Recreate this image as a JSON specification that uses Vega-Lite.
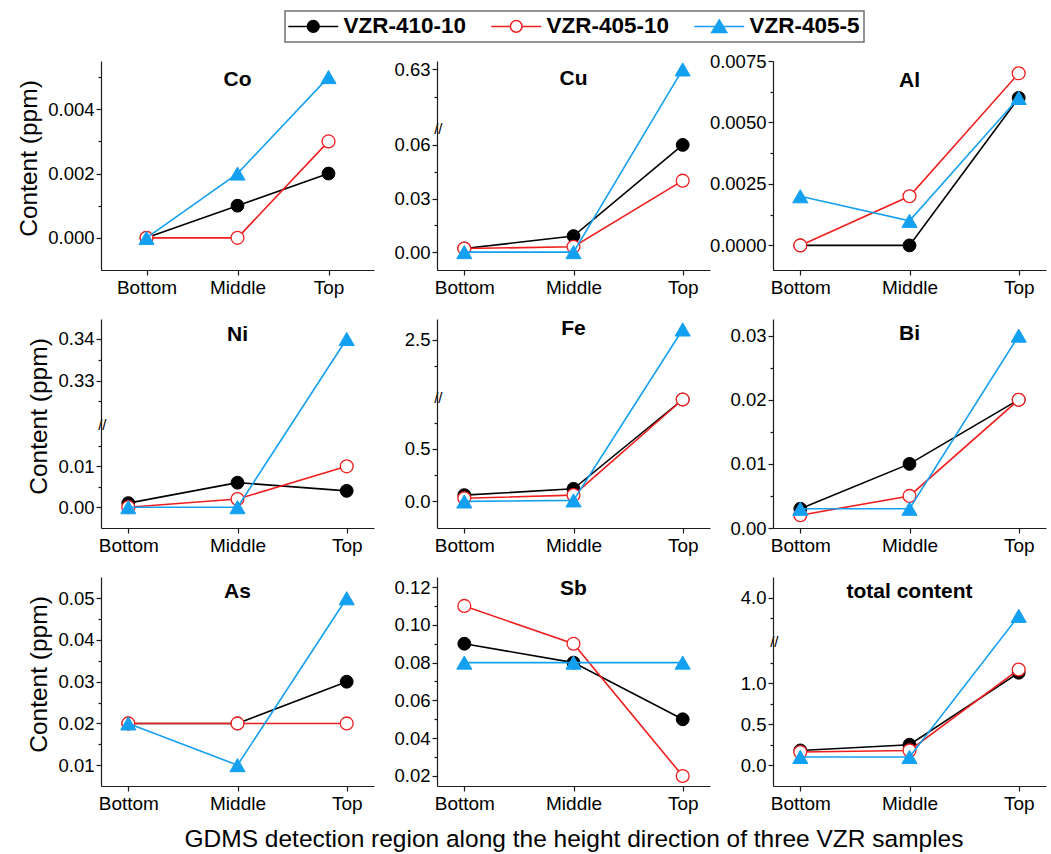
{
  "$schema": "https://vega.github.io/schema/vega-lite/v6.json",
  "datasets": {
    "d": [
      {"element": "Co", "region": "Bottom", "sample": "VZR-410-10", "value": 0},
      {"element": "Co", "region": "Middle", "sample": "VZR-410-10", "value": 0.001},
      {"element": "Co", "region": "Top", "sample": "VZR-410-10", "value": 0.002},
      {"element": "Co", "region": "Bottom", "sample": "VZR-405-10", "value": 0},
      {"element": "Co", "region": "Middle", "sample": "VZR-405-10", "value": 0},
      {"element": "Co", "region": "Top", "sample": "VZR-405-10", "value": 0.003},
      {"element": "Co", "region": "Bottom", "sample": "VZR-405-5", "value": 0},
      {"element": "Co", "region": "Middle", "sample": "VZR-405-5", "value": 0.002},
      {"element": "Co", "region": "Top", "sample": "VZR-405-5", "value": 0.005},
      {"element": "Cu", "region": "Bottom", "sample": "VZR-410-10", "value": 0.002},
      {"element": "Cu", "region": "Middle", "sample": "VZR-410-10", "value": 0.009},
      {"element": "Cu", "region": "Top", "sample": "VZR-410-10", "value": 0.06},
      {"element": "Cu", "region": "Bottom", "sample": "VZR-405-10", "value": 0.002},
      {"element": "Cu", "region": "Middle", "sample": "VZR-405-10", "value": 0.003},
      {"element": "Cu", "region": "Top", "sample": "VZR-405-10", "value": 0.04},
      {"element": "Cu", "region": "Bottom", "sample": "VZR-405-5", "value": 0},
      {"element": "Cu", "region": "Middle", "sample": "VZR-405-5", "value": 0},
      {"element": "Cu", "region": "Top", "sample": "VZR-405-5", "value": 0.63},
      {"element": "Al", "region": "Bottom", "sample": "VZR-410-10", "value": 0},
      {"element": "Al", "region": "Middle", "sample": "VZR-410-10", "value": 0},
      {"element": "Al", "region": "Top", "sample": "VZR-410-10", "value": 0.006},
      {"element": "Al", "region": "Bottom", "sample": "VZR-405-10", "value": 0},
      {"element": "Al", "region": "Middle", "sample": "VZR-405-10", "value": 0.002},
      {"element": "Al", "region": "Top", "sample": "VZR-405-10", "value": 0.007},
      {"element": "Al", "region": "Bottom", "sample": "VZR-405-5", "value": 0.002},
      {"element": "Al", "region": "Middle", "sample": "VZR-405-5", "value": 0.001},
      {"element": "Al", "region": "Top", "sample": "VZR-405-5", "value": 0.006},
      {"element": "Ni", "region": "Bottom", "sample": "VZR-410-10", "value": 0.001},
      {"element": "Ni", "region": "Middle", "sample": "VZR-410-10", "value": 0.006},
      {"element": "Ni", "region": "Top", "sample": "VZR-410-10", "value": 0.004},
      {"element": "Ni", "region": "Bottom", "sample": "VZR-405-10", "value": 0},
      {"element": "Ni", "region": "Middle", "sample": "VZR-405-10", "value": 0.002},
      {"element": "Ni", "region": "Top", "sample": "VZR-405-10", "value": 0.01},
      {"element": "Ni", "region": "Bottom", "sample": "VZR-405-5", "value": 0},
      {"element": "Ni", "region": "Middle", "sample": "VZR-405-5", "value": 0},
      {"element": "Ni", "region": "Top", "sample": "VZR-405-5", "value": 0.34},
      {"element": "Fe", "region": "Bottom", "sample": "VZR-410-10", "value": 0.06},
      {"element": "Fe", "region": "Middle", "sample": "VZR-410-10", "value": 0.12},
      {"element": "Fe", "region": "Top", "sample": "VZR-410-10", "value": 0.97},
      {"element": "Fe", "region": "Bottom", "sample": "VZR-405-10", "value": 0.03},
      {"element": "Fe", "region": "Middle", "sample": "VZR-405-10", "value": 0.06},
      {"element": "Fe", "region": "Top", "sample": "VZR-405-10", "value": 0.97},
      {"element": "Fe", "region": "Bottom", "sample": "VZR-405-5", "value": 0},
      {"element": "Fe", "region": "Middle", "sample": "VZR-405-5", "value": 0.01},
      {"element": "Fe", "region": "Top", "sample": "VZR-405-5", "value": 2.6},
      {"element": "Bi", "region": "Bottom", "sample": "VZR-410-10", "value": 0.003},
      {"element": "Bi", "region": "Middle", "sample": "VZR-410-10", "value": 0.01},
      {"element": "Bi", "region": "Top", "sample": "VZR-410-10", "value": 0.02},
      {"element": "Bi", "region": "Bottom", "sample": "VZR-405-10", "value": 0.002},
      {"element": "Bi", "region": "Middle", "sample": "VZR-405-10", "value": 0.005},
      {"element": "Bi", "region": "Top", "sample": "VZR-405-10", "value": 0.02},
      {"element": "Bi", "region": "Bottom", "sample": "VZR-405-5", "value": 0.003},
      {"element": "Bi", "region": "Middle", "sample": "VZR-405-5", "value": 0.003},
      {"element": "Bi", "region": "Top", "sample": "VZR-405-5", "value": 0.03},
      {"element": "As", "region": "Bottom", "sample": "VZR-410-10", "value": 0.02},
      {"element": "As", "region": "Middle", "sample": "VZR-410-10", "value": 0.02},
      {"element": "As", "region": "Top", "sample": "VZR-410-10", "value": 0.03},
      {"element": "As", "region": "Bottom", "sample": "VZR-405-10", "value": 0.02},
      {"element": "As", "region": "Middle", "sample": "VZR-405-10", "value": 0.02},
      {"element": "As", "region": "Top", "sample": "VZR-405-10", "value": 0.02},
      {"element": "As", "region": "Bottom", "sample": "VZR-405-5", "value": 0.02},
      {"element": "As", "region": "Middle", "sample": "VZR-405-5", "value": 0.01},
      {"element": "As", "region": "Top", "sample": "VZR-405-5", "value": 0.05},
      {"element": "Sb", "region": "Bottom", "sample": "VZR-410-10", "value": 0.09},
      {"element": "Sb", "region": "Middle", "sample": "VZR-410-10", "value": 0.08},
      {"element": "Sb", "region": "Top", "sample": "VZR-410-10", "value": 0.05},
      {"element": "Sb", "region": "Bottom", "sample": "VZR-405-10", "value": 0.11},
      {"element": "Sb", "region": "Middle", "sample": "VZR-405-10", "value": 0.09},
      {"element": "Sb", "region": "Top", "sample": "VZR-405-10", "value": 0.02},
      {"element": "Sb", "region": "Bottom", "sample": "VZR-405-5", "value": 0.08},
      {"element": "Sb", "region": "Middle", "sample": "VZR-405-5", "value": 0.08},
      {"element": "Sb", "region": "Top", "sample": "VZR-405-5", "value": 0.08},
      {"element": "total content", "region": "Bottom", "sample": "VZR-410-10", "value": 0.18},
      {"element": "total content", "region": "Middle", "sample": "VZR-410-10", "value": 0.25},
      {"element": "total content", "region": "Top", "sample": "VZR-410-10", "value": 1.13},
      {"element": "total content", "region": "Bottom", "sample": "VZR-405-10", "value": 0.16},
      {"element": "total content", "region": "Middle", "sample": "VZR-405-10", "value": 0.18},
      {"element": "total content", "region": "Top", "sample": "VZR-405-10", "value": 1.17},
      {"element": "total content", "region": "Bottom", "sample": "VZR-405-5", "value": 0.1},
      {"element": "total content", "region": "Middle", "sample": "VZR-405-5", "value": 0.1},
      {"element": "total content", "region": "Top", "sample": "VZR-405-5", "value": 3.78}
    ]
  },
  "data": {"name": "d"},
  "padding": {"left": 16, "top": 10, "right": 5, "bottom": 5},
  "columns": 3,
  "spacing": {"row": 49, "column": 63},
  "bounds": "flush",
  "concat": [
    {
      "width": 273, "height": 209,
      "transform": [{"filter": "datum.element === 'Co'"}],
      "title": {"text": "Co", "offset": -29},
      "encoding": {
        "x": {"field": "region", "type": "ordinal", "sort": ["Bottom", "Middle", "Top"], "scale": {"type": "point", "padding": 0.5}, "axis": {"title": null, "labelAngle": 0}},
        "y": {"field": "value", "type": "quantitative", "scale": {"domain": [-0.001, 0.0055], "zero": false, "nice": false},
              "axis": {"title": "Content (ppm)", "titleY": 97, "values": [0, 0.001, 0.002, 0.003, 0.004, 0.005], "format": ".3f",
                       "labelExpr": "indexof([0, 0.002, 0.004], datum.value) < 0 ? '' : datum.label",
                       "tickSize": {"condition": {"test": "indexof([0, 0.002, 0.004], datum.value) < 0", "value": 3}, "value": 5}}}
      },
      "layer": [
        {"transform": [{"filter": "datum.sample === 'VZR-410-10'"}], "layer": [
          {"mark": {"type": "line", "stroke": "#000000", "strokeWidth": 1.6}},
          {"mark": {"type": "point", "shape": "circle", "size": 165, "filled": true, "fill": "#000000", "stroke": "#000000", "strokeWidth": 1, "opacity": 1}}]},
        {"transform": [{"filter": "datum.sample === 'VZR-405-10'"}], "layer": [
          {"mark": {"type": "line", "stroke": "#f01e1e", "strokeWidth": 1.6}},
          {"mark": {"type": "point", "shape": "circle", "size": 165, "filled": true, "fill": "#ffffff", "stroke": "#f01e1e", "strokeWidth": 1.3, "opacity": 1}}]},
        {"transform": [{"filter": "datum.sample === 'VZR-405-5'"}], "layer": [
          {"mark": {"type": "line", "stroke": "#14a0f0", "strokeWidth": 1.6}},
          {"mark": {"type": "point", "shape": "triangle-up", "size": 230, "filled": true, "fill": "#14a0f0", "stroke": "#14a0f0", "strokeWidth": 1, "opacity": 1}}]},
        {"data": {"values": []}, "mark": {"type": "point", "opacity": 1, "strokeWidth": 1.5},
         "encoding": {
           "shape": {"field": "sample", "type": "nominal", "scale": {"domain": ["VZR-410-10", "VZR-405-10", "VZR-405-5"], "range": ["M-4.3,0H-1A1,1 0 1,1 1,0A1,1 0 1,1 -1,0M1,0H4.3", "M-4.3,0H-1A1,1 0 1,1 1,0A1,1 0 1,1 -1,0M1,0H4.3", "M-4.3,0H4.3M0,-1.1L1.3,1.05L-1.3,1.05Z"]},
                     "legend": {"title": null, "orient": "none", "legendX": 184, "legendY": -50, "direction": "horizontal", "symbolSize": 135, "symbolStrokeWidth": 1.5, "symbolFillColor": "#000000", "symbolStrokeColor": "#000000", "labelFontSize": 22.5, "labelFontWeight": "bold", "labelFont": "Liberation Sans", "labelColor": "#000", "strokeColor": "#707070", "padding": 4, "columnPadding": 21, "labelOffset": 19, "symbolOffset": 13}},
           "stroke": {"field": "sample", "type": "nominal", "scale": {"domain": ["VZR-410-10", "VZR-405-10", "VZR-405-5"], "range": ["#000000", "#f01e1e", "#14a0f0"]},
                     "legend": {"title": null, "orient": "none", "legendX": 184, "legendY": -50, "direction": "horizontal", "symbolSize": 135, "symbolStrokeWidth": 1.5, "symbolFillColor": "#000000", "symbolStrokeColor": "#000000", "labelFontSize": 22.5, "labelFontWeight": "bold", "labelFont": "Liberation Sans", "labelColor": "#000", "strokeColor": "#707070", "padding": 4, "columnPadding": 21, "labelOffset": 19, "symbolOffset": 13}},
           "fill": {"field": "sample", "type": "nominal", "scale": {"domain": ["VZR-410-10", "VZR-405-10", "VZR-405-5"], "range": ["#000000", "#ffffff", "#14a0f0"]},
                     "legend": {"title": null, "orient": "none", "legendX": 184, "legendY": -50, "direction": "horizontal", "symbolSize": 135, "symbolStrokeWidth": 1.5, "symbolFillColor": "#000000", "symbolStrokeColor": "#000000", "labelFontSize": 22.5, "labelFontWeight": "bold", "labelFont": "Liberation Sans", "labelColor": "#000", "strokeColor": "#707070", "padding": 4, "columnPadding": 21, "labelOffset": 19, "symbolOffset": 13}}
         }}
      ]
    },
    {
      "width": 273, "height": 209,
      "transform": [{"filter": "datum.element === 'Cu'"}],
      "title": {"text": "Cu", "offset": -29},
      "encoding": {
        "x": {"field": "region", "type": "ordinal", "sort": ["Bottom", "Middle", "Top"], "scale": {"type": "point", "padding": 0.25}, "axis": {"title": null, "labelAngle": 0}},
        "y": {"field": "value", "type": "quantitative", "scale": {"domain": [-0.01, 0.0693, 0.609, 0.633], "range": [209, 67.3, 67.3, 0], "zero": false, "nice": false},
              "axis": {"title": null, "values": [0, 0.015, 0.03, 0.045, 0.06, 0.0693, 0.62, 0.63], "format": ".2f",
                       "labelExpr": "datum.value === 0.0693 ? '//' : (indexof([0, 0.03, 0.06, 0.63], datum.value) < 0 ? '' : datum.label)",
                       "labelFontSize": {"condition": {"test": "datum.value === 0.0693", "value": 15}, "value": 18.5},
                       "tickOpacity": {"condition": {"test": "datum.value === 0.0693", "value": 0}, "value": 1},
                       "tickSize": {"condition": [{"test": "datum.value === 0.0693", "value": -7}, {"test": "indexof([0, 0.03, 0.06, 0.63], datum.value) < 0", "value": 3}], "value": 5}}}
      },
      "layer": [
        {"transform": [{"filter": "datum.sample === 'VZR-410-10'"}], "layer": [
          {"mark": {"type": "line", "stroke": "#000000", "strokeWidth": 1.6}},
          {"mark": {"type": "point", "shape": "circle", "size": 165, "filled": true, "fill": "#000000", "stroke": "#000000", "strokeWidth": 1, "opacity": 1}}]},
        {"transform": [{"filter": "datum.sample === 'VZR-405-10'"}], "layer": [
          {"mark": {"type": "line", "stroke": "#f01e1e", "strokeWidth": 1.6}},
          {"mark": {"type": "point", "shape": "circle", "size": 165, "filled": true, "fill": "#ffffff", "stroke": "#f01e1e", "strokeWidth": 1.3, "opacity": 1}}]},
        {"transform": [{"filter": "datum.sample === 'VZR-405-5'"}], "layer": [
          {"mark": {"type": "line", "stroke": "#14a0f0", "strokeWidth": 1.6}},
          {"mark": {"type": "point", "shape": "triangle-up", "size": 230, "filled": true, "fill": "#14a0f0", "stroke": "#14a0f0", "strokeWidth": 1, "opacity": 1}}]}
      ]
    },
    {
      "width": 273, "height": 209,
      "transform": [{"filter": "datum.element === 'Al'"}],
      "title": {"text": "Al", "offset": -39},
      "encoding": {
        "x": {"field": "region", "type": "ordinal", "sort": ["Bottom", "Middle", "Top"], "scale": {"type": "point", "padding": 0.25}, "axis": {"title": null, "labelAngle": 0}},
        "y": {"field": "value", "type": "quantitative", "scale": {"domain": [-0.001, 0.0075], "zero": false, "nice": false},
              "axis": {"title": null, "values": [0, 0.00125, 0.0025, 0.00375, 0.005, 0.00625, 0.0075], "format": ".4f",
                       "labelExpr": "indexof([0, 0.0025, 0.005, 0.0075], datum.value) < 0 ? '' : datum.label",
                       "tickSize": {"condition": {"test": "indexof([0, 0.0025, 0.005, 0.0075], datum.value) < 0", "value": 3}, "value": 5}}}
      },
      "layer": [
        {"transform": [{"filter": "datum.sample === 'VZR-410-10'"}], "layer": [
          {"mark": {"type": "line", "stroke": "#000000", "strokeWidth": 1.6}},
          {"mark": {"type": "point", "shape": "circle", "size": 165, "filled": true, "fill": "#000000", "stroke": "#000000", "strokeWidth": 1, "opacity": 1}}]},
        {"transform": [{"filter": "datum.sample === 'VZR-405-10'"}], "layer": [
          {"mark": {"type": "line", "stroke": "#f01e1e", "strokeWidth": 1.6}},
          {"mark": {"type": "point", "shape": "circle", "size": 165, "filled": true, "fill": "#ffffff", "stroke": "#f01e1e", "strokeWidth": 1.3, "opacity": 1}}]},
        {"transform": [{"filter": "datum.sample === 'VZR-405-5'"}], "layer": [
          {"mark": {"type": "line", "stroke": "#14a0f0", "strokeWidth": 1.6}},
          {"mark": {"type": "point", "shape": "triangle-up", "size": 230, "filled": true, "fill": "#14a0f0", "stroke": "#14a0f0", "strokeWidth": 1, "opacity": 1}}]}
      ]
    },
    {
      "width": 273, "height": 209,
      "transform": [{"filter": "datum.element === 'Ni'"}],
      "title": {"text": "Ni", "offset": -26},
      "encoding": {
        "x": {"field": "region", "type": "ordinal", "sort": ["Bottom", "Middle", "Top"], "scale": {"type": "point", "padding": 0.25}, "axis": {"title": null, "labelAngle": 0}},
        "y": {"field": "value", "type": "quantitative", "scale": {"domain": [-0.0051, 0.0202, 0.3194, 0.3448], "range": [209, 105.7, 105.7, 0], "zero": false, "nice": false},
              "axis": {"title": "Content (ppm)", "titleY": 97, "values": [0, 0.005, 0.01, 0.015, 0.0202, 0.325, 0.33, 0.335, 0.34], "format": ".2f",
                       "labelExpr": "datum.value === 0.0202 ? '//' : (indexof([0, 0.01, 0.33, 0.34], datum.value) < 0 ? '' : datum.label)",
                       "labelFontSize": {"condition": {"test": "datum.value === 0.0202", "value": 15}, "value": 18.5},
                       "tickOpacity": {"condition": {"test": "datum.value === 0.0202", "value": 0}, "value": 1},
                       "tickSize": {"condition": [{"test": "datum.value === 0.0202", "value": -7}, {"test": "indexof([0, 0.01, 0.33, 0.34], datum.value) < 0", "value": 3}], "value": 5}}}
      },
      "layer": [
        {"transform": [{"filter": "datum.sample === 'VZR-410-10'"}], "layer": [
          {"mark": {"type": "line", "stroke": "#000000", "strokeWidth": 1.6}},
          {"mark": {"type": "point", "shape": "circle", "size": 165, "filled": true, "fill": "#000000", "stroke": "#000000", "strokeWidth": 1, "opacity": 1}}]},
        {"transform": [{"filter": "datum.sample === 'VZR-405-10'"}], "layer": [
          {"mark": {"type": "line", "stroke": "#f01e1e", "strokeWidth": 1.6}},
          {"mark": {"type": "point", "shape": "circle", "size": 165, "filled": true, "fill": "#ffffff", "stroke": "#f01e1e", "strokeWidth": 1.3, "opacity": 1}}]},
        {"transform": [{"filter": "datum.sample === 'VZR-405-5'"}], "layer": [
          {"mark": {"type": "line", "stroke": "#14a0f0", "strokeWidth": 1.6}},
          {"mark": {"type": "point", "shape": "triangle-up", "size": 230, "filled": true, "fill": "#14a0f0", "stroke": "#14a0f0", "strokeWidth": 1, "opacity": 1}}]}
      ]
    },
    {
      "width": 273, "height": 209,
      "transform": [{"filter": "datum.element === 'Fe'"}],
      "title": {"text": "Fe", "offset": -20},
      "encoding": {
        "x": {"field": "region", "type": "ordinal", "sort": ["Bottom", "Middle", "Top"], "scale": {"type": "point", "padding": 0.25}, "axis": {"title": null, "labelAngle": 0}},
        "y": {"field": "value", "type": "quantitative", "scale": {"domain": [-0.253, 0.99, 1.95, 2.7], "range": [209, 78.4, 78.4, 0], "zero": false, "nice": false},
              "axis": {"title": null, "values": [0, 0.25, 0.5, 0.75, 0.99, 2.25, 2.5], "format": ".1f",
                       "labelExpr": "datum.value === 0.99 ? '//' : (indexof([0, 0.5, 2.5], datum.value) < 0 ? '' : datum.label)",
                       "labelFontSize": {"condition": {"test": "datum.value === 0.99", "value": 15}, "value": 18.5},
                       "tickOpacity": {"condition": {"test": "datum.value === 0.99", "value": 0}, "value": 1},
                       "tickSize": {"condition": [{"test": "datum.value === 0.99", "value": -7}, {"test": "indexof([0, 0.5, 2.5], datum.value) < 0", "value": 3}], "value": 5}}}
      },
      "layer": [
        {"transform": [{"filter": "datum.sample === 'VZR-410-10'"}], "layer": [
          {"mark": {"type": "line", "stroke": "#000000", "strokeWidth": 1.6}},
          {"mark": {"type": "point", "shape": "circle", "size": 165, "filled": true, "fill": "#000000", "stroke": "#000000", "strokeWidth": 1, "opacity": 1}}]},
        {"transform": [{"filter": "datum.sample === 'VZR-405-10'"}], "layer": [
          {"mark": {"type": "line", "stroke": "#f01e1e", "strokeWidth": 1.6}},
          {"mark": {"type": "point", "shape": "circle", "size": 165, "filled": true, "fill": "#ffffff", "stroke": "#f01e1e", "strokeWidth": 1.3, "opacity": 1}}]},
        {"transform": [{"filter": "datum.sample === 'VZR-405-5'"}], "layer": [
          {"mark": {"type": "line", "stroke": "#14a0f0", "strokeWidth": 1.6}},
          {"mark": {"type": "point", "shape": "triangle-up", "size": 230, "filled": true, "fill": "#14a0f0", "stroke": "#14a0f0", "strokeWidth": 1, "opacity": 1}}]}
      ]
    },
    {
      "width": 273, "height": 209,
      "transform": [{"filter": "datum.element === 'Bi'"}],
      "title": {"text": "Bi", "offset": -25},
      "encoding": {
        "x": {"field": "region", "type": "ordinal", "sort": ["Bottom", "Middle", "Top"], "scale": {"type": "point", "padding": 0.25}, "axis": {"title": null, "labelAngle": 0}},
        "y": {"field": "value", "type": "quantitative", "scale": {"domain": [0, 0.0326], "zero": false, "nice": false},
              "axis": {"title": null, "values": [0, 0.005, 0.01, 0.015, 0.02, 0.025, 0.03], "format": ".2f",
                       "labelExpr": "indexof([0, 0.01, 0.02, 0.03], datum.value) < 0 ? '' : datum.label",
                       "tickSize": {"condition": {"test": "indexof([0, 0.01, 0.02, 0.03], datum.value) < 0", "value": 3}, "value": 5}}}
      },
      "layer": [
        {"transform": [{"filter": "datum.sample === 'VZR-410-10'"}], "layer": [
          {"mark": {"type": "line", "stroke": "#000000", "strokeWidth": 1.6}},
          {"mark": {"type": "point", "shape": "circle", "size": 165, "filled": true, "fill": "#000000", "stroke": "#000000", "strokeWidth": 1, "opacity": 1}}]},
        {"transform": [{"filter": "datum.sample === 'VZR-405-10'"}], "layer": [
          {"mark": {"type": "line", "stroke": "#f01e1e", "strokeWidth": 1.6}},
          {"mark": {"type": "point", "shape": "circle", "size": 165, "filled": true, "fill": "#ffffff", "stroke": "#f01e1e", "strokeWidth": 1.3, "opacity": 1}}]},
        {"transform": [{"filter": "datum.sample === 'VZR-405-5'"}], "layer": [
          {"mark": {"type": "line", "stroke": "#14a0f0", "strokeWidth": 1.6}},
          {"mark": {"type": "point", "shape": "triangle-up", "size": 230, "filled": true, "fill": "#14a0f0", "stroke": "#14a0f0", "strokeWidth": 1, "opacity": 1}}]}
      ]
    },
    {
      "width": 273, "height": 209,
      "transform": [{"filter": "datum.element === 'As'"}],
      "title": {"text": "As", "offset": -25},
      "encoding": {
        "x": {"field": "region", "type": "ordinal", "sort": ["Bottom", "Middle", "Top"], "scale": {"type": "point", "padding": 0.25}, "axis": {"title": null, "labelAngle": 0}},
        "y": {"field": "value", "type": "quantitative", "scale": {"domain": [0.005, 0.0551], "zero": false, "nice": false},
              "axis": {"title": "Content (ppm)", "titleY": 97, "values": [0.01, 0.015, 0.02, 0.025, 0.03, 0.035, 0.04, 0.045, 0.05], "format": ".2f",
                       "labelExpr": "indexof([0.01, 0.02, 0.03, 0.04, 0.05], datum.value) < 0 ? '' : datum.label",
                       "tickSize": {"condition": {"test": "indexof([0.01, 0.02, 0.03, 0.04, 0.05], datum.value) < 0", "value": 3}, "value": 5}}}
      },
      "layer": [
        {"transform": [{"filter": "datum.sample === 'VZR-410-10'"}], "layer": [
          {"mark": {"type": "line", "stroke": "#000000", "strokeWidth": 1.6}},
          {"mark": {"type": "point", "shape": "circle", "size": 165, "filled": true, "fill": "#000000", "stroke": "#000000", "strokeWidth": 1, "opacity": 1}}]},
        {"transform": [{"filter": "datum.sample === 'VZR-405-10'"}], "layer": [
          {"mark": {"type": "line", "stroke": "#f01e1e", "strokeWidth": 1.6}},
          {"mark": {"type": "point", "shape": "circle", "size": 165, "filled": true, "fill": "#ffffff", "stroke": "#f01e1e", "strokeWidth": 1.3, "opacity": 1}}]},
        {"transform": [{"filter": "datum.sample === 'VZR-405-5'"}], "layer": [
          {"mark": {"type": "line", "stroke": "#14a0f0", "strokeWidth": 1.6}},
          {"mark": {"type": "point", "shape": "triangle-up", "size": 230, "filled": true, "fill": "#14a0f0", "stroke": "#14a0f0", "strokeWidth": 1, "opacity": 1}}]}
      ]
    },
    {
      "width": 273, "height": 209,
      "transform": [{"filter": "datum.element === 'Sb'"}],
      "title": {"text": "Sb", "offset": -22},
      "encoding": {
        "x": {"field": "region", "type": "ordinal", "sort": ["Bottom", "Middle", "Top"], "scale": {"type": "point", "padding": 0.25}, "axis": {"title": "GDMS detection region along the height direction of three VZR samples", "titleFontSize": 24.5, "titlePadding": 14, "labelAngle": 0}},
        "y": {"field": "value", "type": "quantitative", "scale": {"domain": [0.0147, 0.1253], "zero": false, "nice": false},
              "axis": {"title": null, "values": [0.02, 0.03, 0.04, 0.05, 0.06, 0.07, 0.08, 0.09, 0.1, 0.11, 0.12], "format": ".2f",
                       "labelExpr": "indexof([0.02, 0.04, 0.06, 0.08, 0.1, 0.12], datum.value) < 0 ? '' : datum.label",
                       "tickSize": {"condition": {"test": "indexof([0.02, 0.04, 0.06, 0.08, 0.1, 0.12], datum.value) < 0", "value": 3}, "value": 5}}}
      },
      "layer": [
        {"transform": [{"filter": "datum.sample === 'VZR-410-10'"}], "layer": [
          {"mark": {"type": "line", "stroke": "#000000", "strokeWidth": 1.6}},
          {"mark": {"type": "point", "shape": "circle", "size": 165, "filled": true, "fill": "#000000", "stroke": "#000000", "strokeWidth": 1, "opacity": 1}}]},
        {"transform": [{"filter": "datum.sample === 'VZR-405-10'"}], "layer": [
          {"mark": {"type": "line", "stroke": "#f01e1e", "strokeWidth": 1.6}},
          {"mark": {"type": "point", "shape": "circle", "size": 165, "filled": true, "fill": "#ffffff", "stroke": "#f01e1e", "strokeWidth": 1.3, "opacity": 1}}]},
        {"transform": [{"filter": "datum.sample === 'VZR-405-5'"}], "layer": [
          {"mark": {"type": "line", "stroke": "#14a0f0", "strokeWidth": 1.6}},
          {"mark": {"type": "point", "shape": "triangle-up", "size": 230, "filled": true, "fill": "#14a0f0", "stroke": "#14a0f0", "strokeWidth": 1, "opacity": 1}}]}
      ]
    },
    {
      "width": 273, "height": 209,
      "transform": [{"filter": "datum.element === 'total content'"}],
      "title": {"text": "total content", "offset": -25},
      "encoding": {
        "x": {"field": "region", "type": "ordinal", "sort": ["Bottom", "Middle", "Top"], "scale": {"type": "point", "padding": 0.25}, "axis": {"title": null, "labelAngle": 0}},
        "y": {"field": "value", "type": "quantitative", "scale": {"domain": [-0.255, 1.518, 3.475, 4.25], "range": [209, 64, 64, 0], "zero": false, "nice": false},
              "axis": {"title": null, "values": [0, 0.25, 0.5, 0.75, 1, 1.25, 1.518, 3.75, 4], "format": ".1f",
                       "labelExpr": "datum.value === 1.518 ? '//' : (indexof([0, 0.5, 1, 4], datum.value) < 0 ? '' : datum.label)",
                       "labelFontSize": {"condition": {"test": "datum.value === 1.518", "value": 15}, "value": 18.5},
                       "tickOpacity": {"condition": {"test": "datum.value === 1.518", "value": 0}, "value": 1},
                       "tickSize": {"condition": [{"test": "datum.value === 1.518", "value": -7}, {"test": "indexof([0, 0.5, 1, 4], datum.value) < 0", "value": 3}], "value": 5}}}
      },
      "layer": [
        {"transform": [{"filter": "datum.sample === 'VZR-410-10'"}], "layer": [
          {"mark": {"type": "line", "stroke": "#000000", "strokeWidth": 1.6}},
          {"mark": {"type": "point", "shape": "circle", "size": 165, "filled": true, "fill": "#000000", "stroke": "#000000", "strokeWidth": 1, "opacity": 1}}]},
        {"transform": [{"filter": "datum.sample === 'VZR-405-10'"}], "layer": [
          {"mark": {"type": "line", "stroke": "#f01e1e", "strokeWidth": 1.6}},
          {"mark": {"type": "point", "shape": "circle", "size": 165, "filled": true, "fill": "#ffffff", "stroke": "#f01e1e", "strokeWidth": 1.3, "opacity": 1}}]},
        {"transform": [{"filter": "datum.sample === 'VZR-405-5'"}], "layer": [
          {"mark": {"type": "line", "stroke": "#14a0f0", "strokeWidth": 1.6}},
          {"mark": {"type": "point", "shape": "triangle-up", "size": 230, "filled": true, "fill": "#14a0f0", "stroke": "#14a0f0", "strokeWidth": 1, "opacity": 1}}]}
      ]
    }
  ],
  "config": {
    "font": "Liberation Sans",
    "view": {"stroke": null},
    "background": "#ffffff",
    "title": {"font": "Liberation Sans", "fontSize": 21, "fontWeight": "bold", "color": "#000000", "anchor": "middle", "frame": "group"},
    "axis": {"labelFont": "Liberation Sans", "labelFontSize": 18.5, "labelColor": "#000000", "domainColor": "#1a1a1a", "tickColor": "#1a1a1a", "domainWidth": 1.2, "tickWidth": 1.2, "grid": false, "labelPadding": 2, "titleFont": "Liberation Sans", "titleFontSize": 24.5, "titleFontWeight": "normal", "titleColor": "#000000", "titlePadding": 6},
    "axisX": {"labelFontSize": 19, "labelPadding": 3, "tickSize": 5},
    "legend": {"strokeWidth": 1.5}
  }
}
